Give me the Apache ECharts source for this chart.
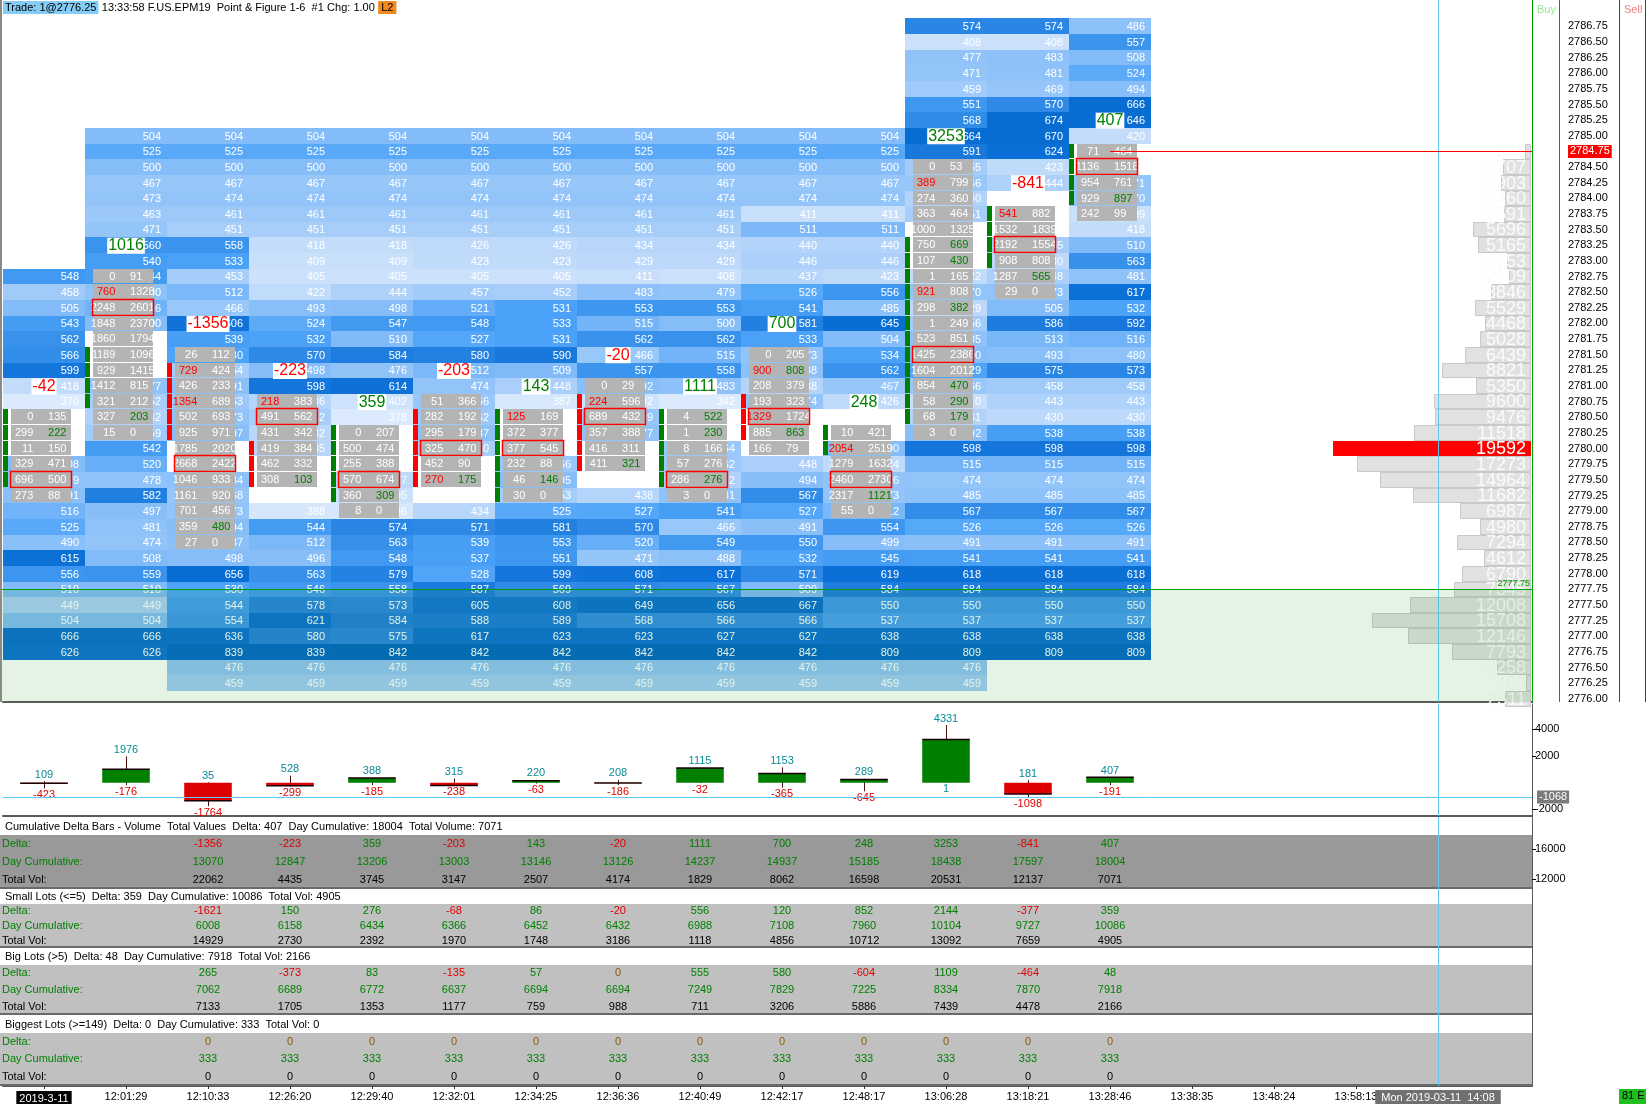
<!DOCTYPE html>
<html><head><meta charset="utf-8">
<script src="https://cdn.jsdelivr.net/npm/echarts@6/dist/echarts.min.js"></script>
<style>html,body{margin:0;padding:0;background:#fff}#c{width:1648px;height:1104px}</style>
</head><body><div id="c"></div>
<script>
// ================= DATA =================
const priceLevels = ['2786.75','2786.50','2786.25','2786.00','2785.75','2785.50','2785.25','2785.00','2784.75','2784.50','2784.25','2784.00','2783.75','2783.50','2783.25','2783.00','2782.75','2782.50','2782.25','2782.00','2781.75','2781.50','2781.25','2781.00','2780.75','2780.50','2780.25','2780.00','2779.75','2779.50','2779.25','2779.00','2778.75','2778.50','2778.25','2778.00','2777.75','2777.50','2777.25','2777.00','2776.75','2776.50','2776.25','2776.00'];
const lastPrice = '2784.75';
const refLevel = 2777.75;
const timeLabels = ['2019-3-11','12:01:29','12:10:33','12:26:20','12:29:40','12:32:01','12:34:25','12:36:36','12:40:49','12:42:17','12:48:17','13:06:28','13:18:21','13:28:46','13:38:35','13:48:24','13:58:13'];
const cursorLabel = 'Mon 2019-03-11  14:08';
const cursorIndex = 17;
const cursorDelta = -1068;

// background volume cells: top price per column, values downward (null = empty)
const cellTop = [2782.75, 2785, 2785, 2785, 2785, 2785, 2785, 2785, 2785, 2785, 2785, 2786.75, 2786.75, 2786.75];
const cellValues = [
 [548,458,505,543,562,566,599,418,370,null,null,null,508,479,491,516,525,490,615,556,510,449,504,666,626],
 [504,525,500,467,473,463,471,560,540,544,480,516,500,null,null,null,477,452,442,459,542,520,478,582,497,481,474,508,559,510,449,504,666,626],
 [504,525,500,467,474,461,451,558,533,453,512,466,606,539,530,454,491,463,473,497,null,null,484,468,473,494,487,498,656,530,544,554,636,839,476,459],
 [504,525,500,467,474,461,451,418,409,405,422,493,524,532,570,498,598,436,452,432,435,null,null,null,388,544,512,496,563,546,578,621,580,839,476,459],
 [504,525,500,467,474,461,451,418,409,405,444,498,547,510,584,476,614,402,378,null,null,null,427,405,386,574,563,548,579,558,573,584,575,842,476,459],
 [504,525,500,467,474,461,451,426,423,405,457,521,548,527,580,512,474,466,462,487,450,null,null,null,434,571,539,537,528,587,605,588,617,842,476,459],
 [504,525,500,467,474,461,451,426,423,405,452,531,533,531,590,509,448,387,null,null,null,466,495,453,525,581,553,551,599,569,608,589,623,842,476,459],
 [504,525,500,467,474,461,451,434,429,411,483,553,515,562,466,557,492,402,469,477,null,null,null,438,527,570,520,471,608,571,649,568,623,842,476,459],
 [504,525,500,467,474,461,451,434,429,408,479,553,500,562,515,558,483,342,null,null,464,462,442,481,541,466,549,488,617,567,656,566,627,842,476,459],
 [504,525,500,467,474,411,511,440,446,437,526,541,581,533,473,488,438,474,null,null,null,448,494,567,527,491,550,532,571,509,667,566,627,842,476,459],
 [504,525,500,467,474,411,511,440,446,423,556,485,645,504,534,562,467,426,null,null,500,424,476,473,512,554,499,545,619,584,550,537,638,809,476,459],
 [574,408,477,471,459,551,568,664,591,455,466,440,451,null,null,null,422,470,429,456,485,500,529,466,410,441,492,598,515,474,485,567,526,491,541,618,584,550,537,638,809,476,459],
 [574,408,483,481,469,570,674,670,624,423,444,null,null,null,455,430,448,473,505,586,513,493,575,458,443,430,538,598,515,474,485,567,526,491,541,618,584,550,537,638,809],
 [486,557,508,524,494,666,646,420,null,null,471,470,409,418,510,563,481,617,532,592,516,480,573,458,443,430,538,598,515,474,485,567,526,491,541,618,584,550,537,638,809]
];

// footprint (bid x ask) per column: top price, rows downward
const footTop = [2780.50, 2782.75, 2781.50, 2780.75, 2780.25, 2780.75, 2780.50, 2781.00, 2780.50, 2781.50, 2780.25, 2784.50, 2783.75, 2784.75];
const footprint = [
 [[0,135],[299,222],[11,150],[329,471],[696,500],[273,88]],
 [[0,91],[760,1328],[2248,2601],[1848,2370],[1860,1794],[1189,1096],[929,1415],[1412,815],[321,212],[327,203],[15,0]],
 [[26,112],[729,424],[426,233],[1354,689],[502,693],[925,971],[1785,2020],[2668,2422],[1046,933],[1161,920],[701,456],[359,480],[27,0]],
 [[218,383],[491,562],[431,342],[419,384],[462,332],[308,103]],
 [[0,207],[500,474],[255,388],[570,674],[360,309],[8,0]],
 [[51,366],[282,192],[295,179],[325,470],[452,90],[270,175]],
 [[125,169],[372,377],[377,545],[232,88],[46,146],[30,0]],
 [[0,29],[224,596],[689,432],[357,388],[416,311],[411,321]],
 [[4,522],[1,230],[8,166],[57,276],[286,276],[3,0]],
 [[0,205],[900,808],[208,379],[193,323],[1329,1724],[885,863],[166,79]],
 [[10,421],[2054,2519],[1279,1632],[2460,2730],[2317,1121],[55,0]],
 [[0,53],[389,799],[274,360],[363,464],[1000,1325],[750,669],[107,430],[1,165],[921,808],[298,382],[1,249],[523,851],[1425,2386],[1604,2012],[854,470],[58,290],[68,179],[3,0]],
 [[541,882],[1532,1839],[2192,1554],[908,808],[1287,565],[29,0]],
 [[71,464],[1136,1518],[954,761],[929,897],[242,99]]
];
const barOpen  = [2779.50, 2780.75, 2781.25, 2780.00, 2779.25, 2780.50, 2779.25, 2780.75, 2779.50, 2780.75, 2780.00, 2780.50, 2783.00, 2784.00];
const barClose = [2780.50, 2781.50, 2780.25, 2779.50, 2780.25, 2779.50, 2780.50, 2779.75, 2780.50, 2780.25, 2780.25, 2783.25, 2783.75, 2784.75];
const deltaLabelPrice = [2781.00, 2783.25, 2782.00, 2781.25, 2780.75, 2781.25, 2781.00, 2781.50, 2781.00, 2782.00, 2780.75, 2785.00, 2784.25, 2785.25];

// volume profile from 2784.75 downward
const profileTop = 2784.75;
const profileVolume = [535,2707,2903,2460,2591,5696,5165,2253,2109,3846,5529,4468,5028,6439,8821,5350,9600,9476,11518,19592,17273,14964,11682,6987,4980,7294,4612,6790,7545,12008,15708,12146,7793,3258,400,2511];

// cumulative delta bars (open at 0)
const deltaHigh = [109, 1976, 35, 528, 388, 315, 220, 208, 1115, 1153, 289, 4331, 181, 407];
const deltaLow  = [-423, -176, -1764, -299, -185, -238, -63, -186, -32, -365, -645, 1, -1098, -191];
const deltaTicks = [4000, 2000, -2000];
const cumTicks = [16000, 12000];

// tables (columns 12:10:33 .. 13:28:46)
const cumDelta = [-1356,-223,359,-203,143,-20,1111,700,248,3253,-841,407];
const cumDay   = [13070,12847,13206,13003,13146,13126,14237,14937,15185,18438,17597,18004];
const cumVol   = [22062,4435,3745,3147,2507,4174,1829,8062,16598,20531,12137,7071];
const smallDelta = [-1621,150,276,-68,86,-20,556,120,852,2144,-377,359];
const smallDay   = [6008,6158,6434,6366,6452,6432,6988,7108,7960,10104,9727,10086];
const smallVol   = [14929,2730,2392,1970,1748,3186,1118,4856,10712,13092,7659,4905];
const bigDelta = [265,-373,83,-135,57,0,555,580,-604,1109,-464,48];
const bigDay   = [7062,6689,6772,6637,6694,6694,7249,7829,7225,8334,7870,7918];
const bigVol   = [7133,1705,1353,1177,759,988,711,3206,5886,7439,4478,2166];
const biggestDelta = [0,0,0,0,0,0,0,0,0,0,0,0];
const biggestDay   = [333,333,333,333,333,333,333,333,333,333,333,333];
const biggestVol   = [0,0,0,0,0,0,0,0,0,0,0,0];

// ================= BUILD =================
const FONT = '"Liberation Sans", Arial, sans-serif';
const ROW = 0.25;
const X_MIN = -0.5, X_MAX = -0.5 + 1529 / 82;
const P_MAX = 2786.75 + 26.3 / 62.56, P_MIN = P_MAX - 702 / 62.56;
const V_MAX = 1529 / 0.01003;
const nBars = footprint.length;
const tableStart = nBars - cumDelta.length;
const last = a => a[a.length - 1];

const blueStops = [[380,[219,234,252]],[430,[188,216,250]],[470,[148,197,249]],[510,[128,186,248]],[530,[76,163,248]],[560,[58,147,236]],[590,[24,120,220]],[620,[10,111,214]],[850,[0,102,200]]];
function blueColor(v) {
  if (v <= blueStops[0][0]) return 'rgb(' + blueStops[0][1].join(',') + ')';
  for (let i = 1; i < blueStops.length; i++) {
    if (v <= blueStops[i][0]) {
      const a = blueStops[i-1], b = blueStops[i], t = (v - a[0]) / (b[0] - a[0]);
      return 'rgb(' + a[1].map((c, k) => Math.round(c + (b[1][k] - c) * t)).join(',') + ')';
    }
  }
  return 'rgb(' + last(blueStops)[1].join(',') + ')';
}

const blueData = [];
cellValues.forEach((vals, c) => vals.forEach((v, k) => { if (v !== null) blueData.push([c, cellTop[c] - ROW * k, v]); }));

const footData = [], markerData = [], deltas = [];
footprint.forEach((rows, c) => {
  let best = 0, sb = 0, sa = 0;
  rows.forEach((r, k) => { sb += r[0]; sa += r[1]; if (r[0] + r[1] > rows[best][0] + rows[best][1]) best = k; });
  deltas.push(sa - sb);
  rows.forEach((r, k) => {
    const askAbove = k > 0 ? rows[k-1][1] : 0;
    const bidBelow = k < rows.length - 1 ? rows[k+1][0] : 0;
    const bidImb = (r[0] >= 100 && r[0] >= 3 * askAbove) ? 1 : 0;
    const askImb = (r[1] >= 100 && r[1] >= 3 * bidBelow) ? 1 : 0;
    footData.push([c, footTop[c] - ROW * k, r[0], r[1], bidImb, askImb, k === best ? 1 : 0]);
  });
  const lo = Math.min(barOpen[c], barClose[c]), hi = Math.max(barOpen[c], barClose[c]);
  for (let p = lo; p <= hi + 1e-9; p += ROW) markerData.push([c, p, barClose[c] > barOpen[c] ? 1 : 0]);
});
const labelData = deltas.map((d, c) => [c, deltaLabelPrice[c], d]);
const profileData = profileVolume.map((v, k) => [v, profileTop - ROW * k]);
const maxVol = Math.max(...profileVolume);
const candleData = deltas.map((d, i) => [i, 0, d, deltaLow[i], deltaHigh[i]]);

function cellBox(api, c, p) {
  const a = api.coord([c - 0.5, p + ROW / 2]), b = api.coord([c + 0.5, p - ROW / 2]);
  return {x0: Math.round(a[0]), x1: Math.round(b[0]), y0: Math.round(a[1]), y1: Math.round(b[1])};
}
function renderBlue(params, api) {
  const c = api.value(0), p = api.value(1), v = api.value(2);
  const b = cellBox(api, c, p);
  return {type: 'group', children: [
    {type: 'rect', shape: {x: b.x0, y: b.y0, width: b.x1 - b.x0, height: b.y1 - b.y0}, style: {fill: blueColor(v)}},
    {type: 'text', style: {text: String(v), x: b.x1 - 6, y: (b.y0 + b.y1) / 2 + 0.5, align: 'right', verticalAlign: 'middle', fill: '#ffffff', font: '11px ' + FONT}}
  ]};
}
function renderFoot(params, api) {
  const c = api.value(0), p = api.value(1);
  const b = cellBox(api, c, p), w = b.x1 - b.x0;
  const gx0 = Math.round(b.x0 + w * 0.1), gx1 = Math.round(b.x0 + w * 0.83);
  const ym = (b.y0 + b.y1 - 1) / 2 + 0.5;
  const ch = [
    {type: 'rect', shape: {x: gx0, y: b.y0, width: gx1 - gx0, height: b.y1 - b.y0 - 1}, style: {fill: '#b4b4b4'}},
    {type: 'text', style: {text: String(api.value(2)), x: b.x0 + w * 0.37, y: ym, align: 'right', verticalAlign: 'middle', fill: api.value(4) ? '#ff0000' : '#ffffff', font: '11px ' + FONT}},
    {type: 'text', style: {text: String(api.value(3)), x: b.x0 + w * 0.55, y: ym, align: 'left', verticalAlign: 'middle', fill: api.value(5) ? '#008000' : '#ffffff', font: '11px ' + FONT}}
  ];
  if (api.value(6)) ch.push({type: 'rect', shape: {x: gx0 - 0.5, y: b.y0 - 0.5, width: gx1 - gx0 + 1, height: b.y1 - b.y0}, style: {fill: 'none', stroke: '#ff0000', lineWidth: 1.5}});
  return {type: 'group', children: ch};
}
function renderMarker(params, api) {
  const c = api.value(0), p = api.value(1);
  const b = cellBox(api, c, p), w = b.x1 - b.x0;
  return {type: 'rect', shape: {x: b.x0, y: b.y0, width: Math.round(w * 0.065), height: b.y1 - b.y0 - 1}, style: {fill: api.value(2) ? '#008000' : '#ff0000'}};
}
function renderLabel(params, api) {
  const c = api.value(0), p = api.value(1), d = api.value(2);
  const pt = api.coord([c, p]);
  return {type: 'text', style: {text: String(d), x: pt[0], y: pt[1] + 0.5, align: 'center', verticalAlign: 'middle', fill: d >= 0 ? '#008000' : '#ff0000', font: '16px ' + FONT, backgroundColor: '#ffffff', padding: [0, 1, 0, 1]}};
}
function renderProfile(params, api) {
  const v = api.value(0), p = api.value(1);
  const a = api.coord([0, p + ROW / 2]), b = api.coord([v, p - ROW / 2]);
  const x1 = Math.round(a[0]) - 2, x0 = Math.round(b[0]) - 2;
  const y0 = Math.round(a[1]), y1 = Math.round(b[1]);
  const isMax = v === maxVol;
  return {type: 'group', children: [
    {type: 'rect', shape: {x: x0 + 0.5, y: y0 + 0.5, width: x1 - x0, height: y1 - y0 - 1}, style: {fill: isMax ? '#ff0000' : '#e1e1e1', stroke: isMax ? '#ff0000' : '#c9c9c9', lineWidth: 1}},
    {type: 'text', style: {text: String(v), x: x1 - 4, y: (y0 + y1) / 2 + 1, align: 'right', verticalAlign: 'middle', fill: isMax ? '#ffffff' : '#fbfbfb', font: '18px ' + FONT}}
  ]};
}
function renderOverlay(params, api) {
  const a = api.coord([X_MIN, refLevel]), b = api.coord([X_MAX, P_MIN]);
  const cp = api.coord([nBars - 1, parseFloat(lastPrice)]);
  const y = Math.round(a[1]) + 0.5;
  const yc = Math.round(cp[1]) + 0.5;
  return {type: 'group', children: [
    {type: 'rect', shape: {x: a[0] - 3, y: y, width: b[0] - a[0] + 3, height: b[1] - y}, style: {fill: 'rgba(40,160,40,0.12)'}},
    {type: 'line', shape: {x1: a[0] - 3, y1: y, x2: b[0], y2: y}, style: {stroke: '#00a000', lineWidth: 1}},
    {type: 'text', style: {text: refLevel.toFixed(2), x: b[0] - 2, y: y - 1, align: 'right', verticalAlign: 'bottom', fill: '#00a000', font: '9px ' + FONT}},
    {type: 'line', shape: {x1: cp[0], y1: yc, x2: b[0], y2: yc}, style: {stroke: '#ff0000', lineWidth: 1}}
  ]};
}
function renderCandle(params, api) {
  const i = api.value(0), o = api.value(1), c = api.value(2), lo = api.value(3), hi = api.value(4);
  const x = Math.round(api.coord([i, 0])[0]);
  const hw = api.coord([i + 0.29, 0])[0] - api.coord([i, 0])[0];
  const yO = api.coord([i, o])[1], yC = api.coord([i, c])[1], yL = api.coord([i, lo])[1], yH = api.coord([i, hi])[1];
  const up = c >= o;
  const f = '11px ' + FONT;
  return {type: 'group', children: [
    {type: 'line', shape: {x1: x + 0.5, y1: yH, x2: x + 0.5, y2: yL}, style: {stroke: '#4a1010', lineWidth: 1}},
    {type: 'rect', shape: {x: x - hw, y: Math.min(yO, yC), width: 2 * hw, height: Math.abs(yO - yC)}, style: {fill: up ? '#008000' : '#dd0000'}},
    {type: 'line', shape: {x1: x - hw, y1: yC, x2: x + hw, y2: yC}, style: {stroke: '#1a0000', lineWidth: 1.5}},
    {type: 'text', style: {text: String(hi), x: x, y: yH - 1, align: 'center', verticalAlign: 'bottom', fill: '#0a8a96', font: f}},
    {type: 'text', style: {text: String(lo), x: x, y: yL + 1, align: 'center', verticalAlign: 'top', fill: lo < 0 ? '#e00000' : '#0a8a96', font: f}}
  ]};
}

// tables
const rowLabels = ['Delta:', 'Day Cumulative:', 'Total Vol:'];
const blocks = [
  {title: 'Cumulative Delta Bars - Volume  Total Values', band: '#999999', volWord: 'Total Volume', rows: [cumDelta, cumDay, cumVol]},
  {title: 'Small Lots (<=5)', band: '#c0c0c0', volWord: 'Total Vol', rows: [smallDelta, smallDay, smallVol]},
  {title: 'Big Lots (>5)', band: '#c0c0c0', volWord: 'Total Vol', rows: [bigDelta, bigDay, bigVol]},
  {title: 'Biggest Lots (>=149)', band: '#c0c0c0', volWord: 'Total Vol', rows: [biggestDelta, biggestDay, biggestVol]}
];
const richBase = {fontSize: 11, fontFamily: FONT};
const headRich = {
  k: Object.assign({color: '#000000'}, richBase), g: Object.assign({color: '#008000'}, richBase),
  r: Object.assign({color: '#e00000'}, richBase), o: Object.assign({color: '#8b5a00'}, richBase)
};
const dcol = v => v > 0 ? 'g' : (v < 0 ? 'r' : 'o');
const valColor = (k, v) => k === 0 ? (v > 0 ? '#008000' : (v < 0 ? '#e00000' : '#8b5a00')) : (k === 1 ? '#008000' : '#000000');

function tableItems(blk) {
  const items = [{t: 'head', x: X_MIN, r: 0}];
  blk.rows.forEach((arr, k) => items.push({t: 'band', x: X_MIN, r: k + 1, k: k}));
  blk.rows.forEach((arr, k) => arr.forEach((v, j) => items.push({t: 'val', x: tableStart + j, r: k + 1, k: k, v: v})));
  return items;
}
function tableRenderer(blk, items) {
  const ld = last(blk.rows[0]), lc = last(blk.rows[1]), lv = last(blk.rows[2]);
  let headText;
  if (dcol(ld) === 'g') headText = '{k|' + blk.title + '}  {g|Delta: ' + ld + '  Day Cumulative: ' + lc + '}  {k|' + blk.volWord + ': ' + lv + '}';
  else headText = '{k|' + blk.title + '}  {' + dcol(ld) + '|Delta: ' + ld + '}  {g|Day Cumulative: ' + lc + '}  {k|' + blk.volWord + ': ' + lv + '}';
  return function (params, api) {
    const it = items[params.dataIndex];
    const p = api.coord([it.x, it.r]);
    const h = api.size([0, 1])[1];
    if (it.t === 'head') {
      return {type: 'text', style: {text: headText, rich: headRich, x: 5, y: p[1] + 1, verticalAlign: 'middle', font: '11px ' + FONT}};
    }
    if (it.t === 'band') {
      const xr = api.coord([X_MAX, it.r])[0];
      const y0 = Math.round(p[1] - h / 2), y1 = Math.round(p[1] + h / 2);
      const ch = [
        {type: 'rect', shape: {x: 0, y: y0, width: xr, height: y1 - y0}, style: {fill: blk.band}},
        {type: 'text', style: {text: rowLabels[it.k], x: 2, y: p[1], verticalAlign: 'middle', fill: it.k === 2 ? '#000000' : '#008000', font: '11px ' + FONT}}
      ];
      if (it.k === 2) ch.push({type: 'line', shape: {x1: 0, y1: y1 - 1, x2: xr, y2: y1 - 1}, style: {stroke: '#6a6a6a', lineWidth: 2}});
      return {type: 'group', children: ch};
    }
    return {type: 'text', style: {text: String(it.v), x: p[0], y: p[1], align: 'center', verticalAlign: 'middle', fill: valColor(it.k, it.v), font: '11px ' + FONT}};
  };
}

const cursorStyle = {color: '#5ccaf2', width: 1, type: 'solid'};
const cursorLine = {silent: true, symbol: 'none', animation: false, label: {show: false}, lineStyle: cursorStyle, data: [{xAxis: cursorIndex}]};
const cursorLineWithLabel = {silent: true, symbol: 'none', animation: false, lineStyle: cursorStyle, z: 10,
  label: {show: true, position: 'end', distance: 4, formatter: cursorLabel, backgroundColor: '#707070', color: '#fff', padding: [2, 6], fontSize: 11, fontFamily: FONT},
  data: [{xAxis: cursorIndex}]};

function hiddenX(gi) {
  return {gridIndex: gi, type: 'value', min: X_MIN, max: X_MAX, axisLine: {show: false, onZero: false}, axisTick: {show: false}, axisLabel: {show: false}, splitLine: {show: false}};
}

const gridBase = {left: 3, width: 1529, outerBoundsMode: 'none', containLabel: false};
const grids = [
  Object.assign({top: 0, height: 702}, gridBase),
  Object.assign({top: 704, height: 112}, gridBase),
  Object.assign({top: 817, height: 72}, gridBase),
  Object.assign({top: 889, height: 59}, gridBase),
  Object.assign({top: 948, height: 67}, gridBase),
  Object.assign({top: 1015, height: 71}, gridBase)
];

const xIdx = timeLabels.map((t, i) => i);
const xAxes = [
  Object.assign(hiddenX(0), {axisLine: {show: true, onZero: false, lineStyle: {color: '#5a5a5a', width: 2}}}),
  {gridIndex: 0, type: 'value', inverse: true, min: 0, max: V_MAX, show: false},
  Object.assign(hiddenX(1), {axisLine: {show: true, onZero: false, lineStyle: {color: '#5a5a5a', width: 2}}}),
  hiddenX(2), hiddenX(3), hiddenX(4),
  Object.assign(hiddenX(5), {
    axisLine: {show: true, onZero: false, lineStyle: {color: '#5a5a5a', width: 2}},
    axisTick: {show: true, customValues: xIdx, length: 3, lineStyle: {color: '#333'}},
    axisLabel: {show: true, customValues: xIdx, showMinLabel: true, showMaxLabel: true, hideOverlap: false,
      margin: 5, color: '#000', fontSize: 11, fontFamily: FONT,
      formatter: v => { const i = Math.round(v); if (i === 0) return '{d|' + timeLabels[0] + '}'; return timeLabels[i]; },
      rich: {d: {backgroundColor: '#000', color: '#fff', padding: [2, 3], fontSize: 11, fontFamily: FONT}}}
  })
];

const catY = (gi, show) => ({gridIndex: gi, type: 'category', data: ['h', 'd', 'c', 't'], inverse: true, position: 'right',
  axisLine: {show: show, onZero: false, lineStyle: {color: '#5a5a5a', width: 1}}, axisTick: {show: false}, axisLabel: {show: false}, splitLine: {show: false}});

const yAxes = [
  {gridIndex: 0, type: 'value', min: P_MIN, max: P_MAX, position: 'right',
    axisLine: {show: true, onZero: false, lineStyle: {color: '#00a000', width: 1}}, axisTick: {show: false}, splitLine: {show: false},
    axisLabel: {customValues: priceLevels.map(Number), showMinLabel: true, showMaxLabel: true, margin: 36, color: '#000', fontSize: 11, fontFamily: FONT,
      formatter: v => { const s = priceLevels.find(t => Math.abs(Number(t) - v) < 1e-6) || v.toFixed(2); return s === lastPrice ? '{cur|' + s + '}' : s; },
      rich: {cur: {backgroundColor: '#ff0000', color: '#fff', padding: [1, 2], fontSize: 11, fontFamily: FONT}}}},
  {gridIndex: 1, type: 'value', min: -2500, max: 5910, position: 'right',
    axisLine: {show: true, onZero: false, lineStyle: {color: '#5a5a5a'}}, splitLine: {show: false},
    axisTick: {show: true, customValues: deltaTicks, length: 4, lineStyle: {color: '#000'}},
    axisLabel: {customValues: deltaTicks, margin: 3, color: '#000', fontSize: 11, fontFamily: FONT, formatter: v => String(v)}},
  Object.assign(catY(2, false), {position: 'left', show: false}),
  {gridIndex: 2, type: 'value', min: 10667, max: 20267, position: 'right',
    axisLine: {show: true, onZero: false, lineStyle: {color: '#5a5a5a'}}, splitLine: {show: false},
    axisTick: {show: true, customValues: cumTicks, length: 4, lineStyle: {color: '#000'}},
    axisLabel: {customValues: cumTicks, margin: 3, color: '#000', fontSize: 11, fontFamily: FONT, formatter: v => String(v)}},
  catY(3, true), catY(4, true), catY(5, true)
];

const series = [
  {type: 'custom', name: 'cells', xAxisIndex: 0, yAxisIndex: 0, z: 2, renderItem: renderBlue, data: blueData, encode: {x: 0, y: 1}, silent: true},
  {type: 'custom', name: 'profile', xAxisIndex: 1, yAxisIndex: 0, z: 2, renderItem: renderProfile, data: profileData, encode: {x: 0, y: 1}, silent: true},
  {type: 'custom', name: 'footprint', xAxisIndex: 0, yAxisIndex: 0, z: 3, renderItem: renderFoot, data: footData, encode: {x: 0, y: 1}, silent: true},
  {type: 'custom', name: 'markers', xAxisIndex: 0, yAxisIndex: 0, z: 3, renderItem: renderMarker, data: markerData, encode: {x: 0, y: 1}, silent: true},
  {type: 'custom', name: 'labels', xAxisIndex: 0, yAxisIndex: 0, z: 4, renderItem: renderLabel, data: labelData, encode: {x: 0, y: 1}, silent: true},
  {type: 'custom', name: 'overlay', xAxisIndex: 0, yAxisIndex: 0, z: 5, renderItem: renderOverlay, data: [[0, refLevel]], encode: {x: 0, y: 1}, silent: true, markLine: cursorLine},
  {type: 'custom', name: 'delta', xAxisIndex: 2, yAxisIndex: 1, z: 3, renderItem: renderCandle, data: candleData, encode: {x: 0, y: [1, 2, 3, 4]}, silent: true,
    markLine: {silent: true, symbol: 'none', animation: false, data: [
      {xAxis: cursorIndex, label: {show: false}, lineStyle: cursorStyle},
      {yAxis: cursorDelta, lineStyle: cursorStyle,
        label: {show: true, position: 'end', distance: 5, formatter: String(cursorDelta), backgroundColor: '#7a7a7a', color: '#fff', padding: [1, 2], fontSize: 11, fontFamily: FONT}},
      {yAxis: last(deltas), lineStyle: {opacity: 0},
        label: {show: true, position: 'end', distance: 5, formatter: String(last(deltas)), backgroundColor: '#ff0000', color: '#fff', padding: [1, 2], fontSize: 11, fontFamily: FONT}}
    ]}},
  {type: 'line', name: 'dayCum', xAxisIndex: 3, yAxisIndex: 3, data: cumDay.map((v, j) => [tableStart + j, v]), showSymbol: false, silent: true, z: 1,
    lineStyle: {opacity: 0}, markLine: {silent: true, symbol: 'none', animation: false, data: [
      {yAxis: last(cumDay), lineStyle: {opacity: 0},
        label: {show: true, position: 'end', distance: 5, formatter: String(last(cumDay)), backgroundColor: '#ff0000', color: '#fff', padding: [1, 2], fontSize: 11, fontFamily: FONT}}
    ]}}
];
const tableYAxis = [2, 4, 5, 6];
blocks.forEach((blk, b) => {
  const items = tableItems(blk);
  series.push({type: 'custom', name: 'table' + b, xAxisIndex: 3 + b, yAxisIndex: tableYAxis[b], z: 3, silent: true,
    renderItem: tableRenderer(blk, items), data: items.map(it => [it.x, it.r]), encode: {x: 0, y: 1},
    markLine: b === blocks.length - 1 ? cursorLineWithLabel : cursorLine});
});

const graphic = [
  {type: 'text', left: 3, top: 1, z: 100, style: {
    text: '{t|Trade: 1@2776.25} {b|13:33:58 F.US.EPM19  Point & Figure 1-6  #1} {g|Chg: 1.00} {l|L2}',
    rich: {t: {backgroundColor: '#86cdf5', color: '#000', padding: [1, 2], fontSize: 11, fontFamily: FONT},
           b: {color: '#000', fontSize: 11, fontFamily: FONT},
           g: {color: '#7a7a7a', fontSize: 11, fontFamily: FONT},
           l: {backgroundColor: '#f08a1e', color: '#fff', padding: [1, 3], fontSize: 11, fontFamily: FONT}}}},
  {type: 'line', z: 100, shape: {x1: 1, y1: 0, x2: 1, y2: 702}, style: {stroke: '#8a8a8a', lineWidth: 2}},
  {type: 'line', z: 100, shape: {x1: 1559.5, y1: 0, x2: 1559.5, y2: 702}, style: {stroke: '#00a000', lineWidth: 1}},
  {type: 'line', z: 100, shape: {x1: 1619.5, y1: 0, x2: 1619.5, y2: 702}, style: {stroke: '#e00000', lineWidth: 1}},
  {type: 'line', z: 100, shape: {x1: 1645.5, y1: 0, x2: 1645.5, y2: 702}, style: {stroke: '#e00000', lineWidth: 1}},
  {type: 'text', z: 100, left: 1537, top: 4, style: {text: 'Buy', fill: '#90e890', font: '11px ' + FONT}},
  {type: 'text', z: 100, left: 1624, top: 4, style: {text: 'Sell', fill: '#f08080', font: '11px ' + FONT}},
  {type: 'rect', z: 100, shape: {x: 1619, y: 1089, width: 27, height: 15}, style: {fill: '#1fbf1f'}},
  {type: 'text', z: 101, left: 1622, top: 1090, style: {text: '81 E', fill: '#000', font: '11px ' + FONT}}
];

const chart = echarts.init(document.getElementById('c'), null, {renderer: 'canvas'});
chart.setOption({
  backgroundColor: '#ffffff',
  animation: false,
  textStyle: {fontFamily: FONT},
  grid: grids,
  xAxis: xAxes,
  yAxis: yAxes,
  series: series,
  graphic: graphic
});
</script></body></html>
